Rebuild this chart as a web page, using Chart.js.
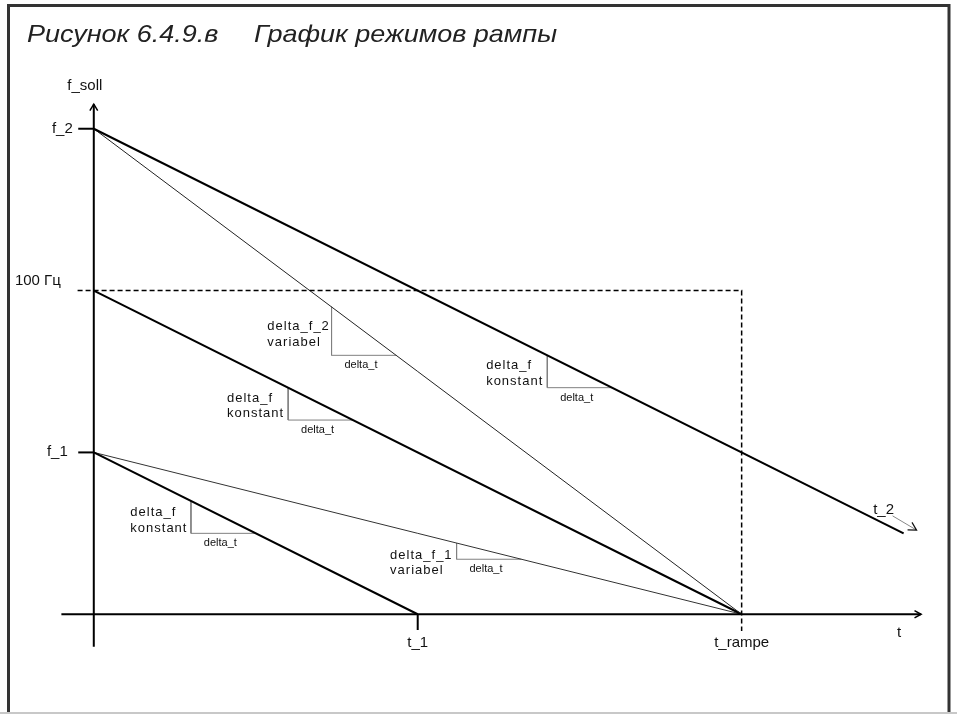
<!DOCTYPE html>
<html>
<head>
<meta charset="utf-8">
<script src="https://cdn.jsdelivr.net/npm/chart.js@4.4.0/dist/chart.umd.min.js"></script>
<style>
  html, body { margin: 0; padding: 0; background: #fff; }
  canvas { display: block; }
</style>
</head>
<body>
<canvas id="rampChart" width="957" height="714"></canvas>
<script>
// ramps: value at t = 0, end point
const rampNames = ['f_2 konstant', 'f_2 variabel', '100 Гц konstant', 'f_1 konstant', 'f_1 variabel'];
const rampStartF = [150, 150, 100, 50, 50];
const rampEndT = [125, 100, 100, 50, 100];
const rampEndF = [25, 0, 0, 0, 0];

// marks on the f axis
const fTickValues = [150, 100, 50];
const fTickLabels = ['f_2', '100 Гц', 'f_1'];
// marks on the t axis
const tTickValues = [50, 100];
const tTickLabels = ['t_1', 't_rampe'];

// delta_f / delta_t steps on the ramps
const stepT0 = [15, 56, 30, 36.7, 70];
const stepT1 = [25, 66, 40, 46.7, 80];
const stepFTop = [35, 22, 70, 95, 80];
const stepFBottom = [25, 17, 60, 80, 70];
const stepLabels = [
  ['delta_f', 'konstant'],
  ['delta_f_1', 'variabel'],
  ['delta_f', 'konstant'],
  ['delta_f_2', 'variabel'],
  ['delta_f', 'konstant']
];

const titleLeft = 'Рисунок 6.4.9.в';
const titleRight = 'График режимов рампы';

// axis ends (data units)
const tAxisFrom = -5, tAxisTo = 127.7;
const fAxisFrom = -10, fAxisTo = 157.6;
const t2ArrowFrom = {x: 123.3, y: 30.4}, t2ArrowTo = {x: 127, y: 26};

function seg(points, color, width, dash) {
  return {
    data: points,
    showLine: true,
    borderColor: color,
    borderWidth: width,
    borderDash: dash || [],
    pointRadius: 0,
    fill: false
  };
}

var datasets = [];
// axes
datasets.push(seg([{x: tAxisFrom, y: 0}, {x: tAxisTo, y: 0}], '#000', 2));
datasets.push(seg([{x: 0, y: fAxisFrom}, {x: 0, y: fAxisTo}], '#000', 2));

// f ticks, 100 Гц is dashed out to t_rampe
for (var i = 0; i < fTickValues.length; i++) {
  if (fTickLabels[i] === '100 Гц') {
    datasets.push(seg([{x: -2.5, y: fTickValues[i]}, {x: tTickValues[1], y: fTickValues[i]}, {x: tTickValues[1], y: -5.2}], '#000', 1.5, [5, 3]));
  } else {
    datasets.push(seg([{x: -2.4, y: fTickValues[i]}, {x: 0, y: fTickValues[i]}], '#000', 2));
  }
}
// t_1 tick
datasets.push(seg([{x: tTickValues[0], y: 0}, {x: tTickValues[0], y: -4.9}], '#000', 2));

// ramps
var rampWidth = [2, 1, 2, 2, 1];
var rampColor = ['#000', '#222', '#000', '#000', '#333'];
for (var i = 0; i < rampNames.length; i++) {
  var d = seg([{x: 0, y: rampStartF[i]}, {x: rampEndT[i], y: rampEndF[i]}], rampColor[i], rampWidth[i]);
  d.label = rampNames[i];
  datasets.push(d);
}

// steps
for (var i = 0; i < stepT0.length; i++) {
  datasets.push(seg([{x: stepT0[i], y: stepFTop[i]}, {x: stepT0[i], y: stepFBottom[i]}, {x: stepT1[i], y: stepFBottom[i]}], '#808080', 1));
}
// t_2 pointer
datasets.push(seg([t2ArrowFrom, t2ArrowTo], '#888', 1));

function arrowHead(ctx, x0, y0, x1, y1, len, half) {
  var a = Math.atan2(y1 - y0, x1 - x0);
  ctx.beginPath();
  ctx.moveTo(x1 - len * Math.cos(a - half), y1 - len * Math.sin(a - half));
  ctx.lineTo(x1, y1);
  ctx.lineTo(x1 - len * Math.cos(a + half), y1 - len * Math.sin(a + half));
  ctx.stroke();
}

// text offsets for the step labels, px from lower corner
var noteDy = [-20.6, -4.3, -22, -29, -22];
var noteGap = [4.5, 5, 5, 2.7, 5];
// f labels: gap from axis to right edge, vertical shift
var fLabelGap = [21, 33, 26];
var fLabelDy = [0, -10, -1];

const decor = {
  id: 'decor',
  afterDatasetsDraw(chart) {
    var ctx = chart.ctx;
    var xs = chart.scales.x, ys = chart.scales.y;
    var px = function(v) { return xs.getPixelForValue(v); };
    var py = function(v) { return ys.getPixelForValue(v); };
    var ax = px(0), ay = py(0);

    ctx.save();
    ctx.strokeStyle = '#000';
    ctx.lineWidth = 1.5;
    arrowHead(ctx, ax, py(0), ax, py(fAxisTo), 7.5, 0.55);
    arrowHead(ctx, px(0), ay, px(tAxisTo), ay, 7.5, 0.5);
    ctx.lineWidth = 1.2;
    ctx.strokeStyle = '#111';
    arrowHead(ctx, px(t2ArrowFrom.x), py(t2ArrowFrom.y), px(t2ArrowTo.x), py(t2ArrowTo.y), 9, 0.5);

    ctx.fillStyle = '#111';
    ctx.textBaseline = 'middle';
    ctx.font = '15px "Liberation Sans", Arial, sans-serif';

    ctx.textAlign = 'center';
    ctx.fillText('f_soll', ax - 9, py(fAxisTo) - 18);
    ctx.fillText('t', px(tAxisTo) - 22, ay + 19);
    ctx.fillText('t_2', px(t2ArrowFrom.x) - 9, py(t2ArrowFrom.y) - 6);

    ctx.textAlign = 'right';
    for (var i = 0; i < fTickValues.length; i++) {
      ctx.fillText(fTickLabels[i], ax - fLabelGap[i], py(fTickValues[i]) + fLabelDy[i]);
    }
    ctx.textAlign = 'center';
    for (var i = 0; i < tTickValues.length; i++) {
      ctx.fillText(tTickLabels[i], px(tTickValues[i]), ay + 29);
    }

    // step notes
    for (var i = 0; i < stepT0.length; i++) {
      var vx = px(stepT0[i]), by = py(stepFBottom[i]);
      ctx.font = '13px "Liberation Sans", Arial, sans-serif';
      ctx.letterSpacing = '1px';
      ctx.textAlign = 'left';
      var w = 0;
      stepLabels[i].forEach(function(s) { w = Math.max(w, ctx.measureText(s).width - 1); });
      stepLabels[i].forEach(function(s, k) {
        ctx.fillText(s, vx - noteGap[i] - w, by + noteDy[i] + k * 15.7);
      });
      ctx.letterSpacing = '0px';
      ctx.font = '11px "Liberation Sans", Arial, sans-serif';
      ctx.textAlign = 'center';
      ctx.fillText('delta_t', (vx + px(stepT1[i])) / 2 - 3, by + 10);
    }

    // title
    ctx.font = 'italic 24px "Liberation Sans", Arial, sans-serif';
    ctx.textAlign = 'left';
    ctx.textBaseline = 'alphabetic';
    ctx.fillStyle = '#222';
    var sx = 303 / ctx.measureText(titleRight).width;
    ctx.save();
    ctx.translate(27, 42);
    ctx.scale(sx, 1);
    ctx.fillText(titleLeft, 0, 0);
    ctx.restore();
    ctx.save();
    ctx.translate(254, 42);
    ctx.scale(sx, 1);
    ctx.fillText(titleRight, 0, 0);
    ctx.restore();

    // frame
    ctx.strokeStyle = '#333';
    ctx.lineWidth = 3;
    ctx.beginPath();
    ctx.moveTo(8.5, 714); ctx.lineTo(8.5, 5.5); ctx.lineTo(949, 5.5); ctx.lineTo(949, 714);
    ctx.stroke();
    ctx.strokeStyle = '#c8c8c8';
    ctx.lineWidth = 2;
    ctx.beginPath();
    ctx.moveTo(0, 713); ctx.lineTo(957, 713);
    ctx.stroke();
    ctx.restore();
  }
};

new Chart(document.getElementById('rampChart').getContext('2d'), {
  type: 'scatter',
  data: { datasets: datasets },
  options: {
    responsive: false,
    animation: false,
    devicePixelRatio: 1,
    events: [],
    layout: { padding: { left: 29, right: 21, top: 64, bottom: 35 } },
    scales: {
      x: { type: 'linear', min: -10, max: 130, display: false },
      y: { type: 'linear', min: -20, max: 170, display: false }
    },
    plugins: {
      legend: { display: false },
      tooltip: { enabled: false }
    }
  },
  plugins: [decor]
});
</script>
</body>
</html>
